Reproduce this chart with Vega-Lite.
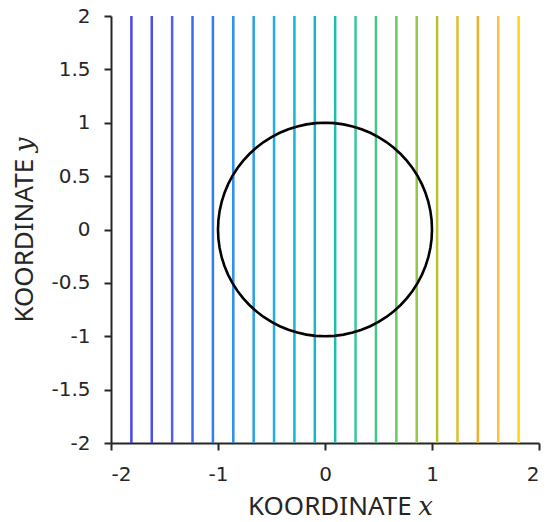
{
  "$schema": "https://vega.github.io/schema/vega-lite/v6.json",
  "width": 428,
  "height": 427,
  "autosize": "none",
  "padding": {"left": 111, "top": 16, "right": 8, "bottom": 79},
  "background": "white",
  "config": {
    "view": {"stroke": null},
    "axis": {
      "grid": false,
      "domainColor": "#262626",
      "domainWidth": 2,
      "tickColor": "#262626",
      "tickWidth": 2,
      "tickSize": 7,
      "labelFont": "DejaVu Sans",
      "labelFontSize": 20,
      "labelColor": "#262626",
      "labelPadding": 14,
      "labelExpr": "datum.value + ''",
      "titleFont": "Noto Sans, DejaVu Serif",
      "titleFontSize": 26,
      "titleFontWeight": "normal",
      "titleColor": "#262626"
    },
    "axisX": {"titlePadding": 9, "titleX": 229},
    "axisY": {"titlePadding": 13}
  },
  "datasets": {
    "lines": [
      {"k": 1, "x": -1.8095},
      {"k": 2, "x": -1.6190},
      {"k": 3, "x": -1.4286},
      {"k": 4, "x": -1.2381},
      {"k": 5, "x": -1.0476},
      {"k": 6, "x": -0.8571},
      {"k": 7, "x": -0.6667},
      {"k": 8, "x": -0.4762},
      {"k": 9, "x": -0.2857},
      {"k": 10, "x": -0.0952},
      {"k": 11, "x": 0.0952},
      {"k": 12, "x": 0.2857},
      {"k": 13, "x": 0.4762},
      {"k": 14, "x": 0.6667},
      {"k": 15, "x": 0.8571},
      {"k": 16, "x": 1.0476},
      {"k": 17, "x": 1.2381},
      {"k": 18, "x": 1.4286},
      {"k": 19, "x": 1.6190},
      {"k": 20, "x": 1.8095}
    ],
    "circle": [
      {"t": 0, "x": 1, "y": 0},
      {"t": 5, "x": 0.9962, "y": 0.0872},
      {"t": 10, "x": 0.9848, "y": 0.1736},
      {"t": 15, "x": 0.9659, "y": 0.2588},
      {"t": 20, "x": 0.9397, "y": 0.342},
      {"t": 25, "x": 0.9063, "y": 0.4226},
      {"t": 30, "x": 0.866, "y": 0.5},
      {"t": 35, "x": 0.8192, "y": 0.5736},
      {"t": 40, "x": 0.766, "y": 0.6428},
      {"t": 45, "x": 0.7071, "y": 0.7071},
      {"t": 50, "x": 0.6428, "y": 0.766},
      {"t": 55, "x": 0.5736, "y": 0.8192},
      {"t": 60, "x": 0.5, "y": 0.866},
      {"t": 65, "x": 0.4226, "y": 0.9063},
      {"t": 70, "x": 0.342, "y": 0.9397},
      {"t": 75, "x": 0.2588, "y": 0.9659},
      {"t": 80, "x": 0.1736, "y": 0.9848},
      {"t": 85, "x": 0.0872, "y": 0.9962},
      {"t": 90, "x": 0, "y": 1},
      {"t": 95, "x": -0.0872, "y": 0.9962},
      {"t": 100, "x": -0.1736, "y": 0.9848},
      {"t": 105, "x": -0.2588, "y": 0.9659},
      {"t": 110, "x": -0.342, "y": 0.9397},
      {"t": 115, "x": -0.4226, "y": 0.9063},
      {"t": 120, "x": -0.5, "y": 0.866},
      {"t": 125, "x": -0.5736, "y": 0.8192},
      {"t": 130, "x": -0.6428, "y": 0.766},
      {"t": 135, "x": -0.7071, "y": 0.7071},
      {"t": 140, "x": -0.766, "y": 0.6428},
      {"t": 145, "x": -0.8192, "y": 0.5736},
      {"t": 150, "x": -0.866, "y": 0.5},
      {"t": 155, "x": -0.9063, "y": 0.4226},
      {"t": 160, "x": -0.9397, "y": 0.342},
      {"t": 165, "x": -0.9659, "y": 0.2588},
      {"t": 170, "x": -0.9848, "y": 0.1736},
      {"t": 175, "x": -0.9962, "y": 0.0872},
      {"t": 180, "x": -1, "y": 0},
      {"t": 185, "x": -0.9962, "y": -0.0872},
      {"t": 190, "x": -0.9848, "y": -0.1736},
      {"t": 195, "x": -0.9659, "y": -0.2588},
      {"t": 200, "x": -0.9397, "y": -0.342},
      {"t": 205, "x": -0.9063, "y": -0.4226},
      {"t": 210, "x": -0.866, "y": -0.5},
      {"t": 215, "x": -0.8192, "y": -0.5736},
      {"t": 220, "x": -0.766, "y": -0.6428},
      {"t": 225, "x": -0.7071, "y": -0.7071},
      {"t": 230, "x": -0.6428, "y": -0.766},
      {"t": 235, "x": -0.5736, "y": -0.8192},
      {"t": 240, "x": -0.5, "y": -0.866},
      {"t": 245, "x": -0.4226, "y": -0.9063},
      {"t": 250, "x": -0.342, "y": -0.9397},
      {"t": 255, "x": -0.2588, "y": -0.9659},
      {"t": 260, "x": -0.1736, "y": -0.9848},
      {"t": 265, "x": -0.0872, "y": -0.9962},
      {"t": 270, "x": 0, "y": -1},
      {"t": 275, "x": 0.0872, "y": -0.9962},
      {"t": 280, "x": 0.1736, "y": -0.9848},
      {"t": 285, "x": 0.2588, "y": -0.9659},
      {"t": 290, "x": 0.342, "y": -0.9397},
      {"t": 295, "x": 0.4226, "y": -0.9063},
      {"t": 300, "x": 0.5, "y": -0.866},
      {"t": 305, "x": 0.5736, "y": -0.8192},
      {"t": 310, "x": 0.6428, "y": -0.766},
      {"t": 315, "x": 0.7071, "y": -0.7071},
      {"t": 320, "x": 0.766, "y": -0.6428},
      {"t": 325, "x": 0.8192, "y": -0.5736},
      {"t": 330, "x": 0.866, "y": -0.5},
      {"t": 335, "x": 0.9063, "y": -0.4226},
      {"t": 340, "x": 0.9397, "y": -0.342},
      {"t": 345, "x": 0.9659, "y": -0.2588},
      {"t": 350, "x": 0.9848, "y": -0.1736},
      {"t": 355, "x": 0.9962, "y": -0.0872},
      {"t": 360, "x": 1, "y": 0}
    ]
  },
  "layer": [
    {
      "data": {"name": "lines"},
      "mark": {"type": "rule", "strokeWidth": 2.5},
      "encoding": {
        "x": {
          "field": "x",
          "type": "quantitative",
          "scale": {"domain": [-2, 2], "nice": false},
          "axis": {"values": [-2, -1, 0, 1, 2], "title": "KOORDINATE 𝑥"}
        },
        "color": {
          "field": "k",
          "type": "ordinal",
          "legend": null,
          "scale": {
            "range": ["#4848e6", "#4a4df0", "#4f5df2", "#3f68f0", "#2d7ef6", "#2b8ef0", "#27a0e6", "#21aee0", "#13b5d3", "#14b8c2", "#1ebdb2", "#38c69e", "#47c487", "#6cc862", "#92c844", "#b8c032", "#d8c030", "#eeb030", "#fbc344", "#fad51c"]
          }
        }
      }
    },
    {
      "data": {"name": "circle"},
      "mark": {"type": "line", "color": "black", "strokeWidth": 2.6},
      "encoding": {
        "x": {"field": "x", "type": "quantitative"},
        "y": {
          "field": "y",
          "type": "quantitative",
          "scale": {"domain": [-2, 2], "nice": false},
          "axis": {"values": [-2, -1.5, -1, -0.5, 0, 0.5, 1, 1.5, 2], "title": "KOORDINATE 𝑦"}
        },
        "order": {"field": "t", "type": "quantitative"}
      }
    }
  ]
}
